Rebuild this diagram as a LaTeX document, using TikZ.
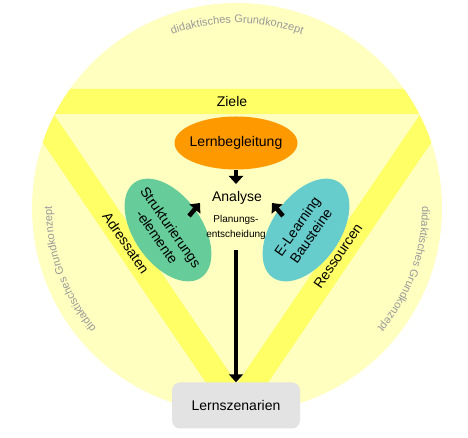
\documentclass[tikz,border=0pt]{standalone}
\usepackage{fontspec}
\setmainfont{Liberation Sans}
\usetikzlibrary{shapes.geometric, arrows.meta, decorations.text}

\definecolor{hellgelb}{RGB}{255,255,192}
\definecolor{bandgelb}{RGB}{255,255,102}
\definecolor{orange1}{RGB}{255,153,0}
\definecolor{gruen1}{RGB}{102,204,153}
\definecolor{tuerkis1}{RGB}{102,204,204}
\definecolor{grau1}{RGB}{227,227,227}
\definecolor{textgrau}{RGB}{153,153,153}

\tikzset{
  pfeil/.style={line width=4.5pt, -{Triangle[width=14pt,length=8pt]}},
  band/.style={line width=25pt, draw=bandgelb, line join=miter},
  blob/.style={ellipse, inner sep=0pt},
  bogentext/.style={decorate, decoration={text along path, text align=center,
      text color=textgrau, text={|\fontsize{11}{13}\selectfont|didaktisches Grundkonzept}}}
}

\begin{document}
\begin{tikzpicture}[x=1pt, y=1pt, every node/.style={font=\fontsize{14}{16.8}\selectfont}]
    \useasboundingbox (0,0) rectangle (468,438);

    % Grundkreis mit Dreieck
    \fill[hellgelb] (237,230) circle (205);
    \begin{scope}
        \clip (237,230) circle (205);
        \draw[band] (30,336.5) -- (444,336.5) -- (237,32) -- cycle;
    \end{scope}
    \path[bogentext] (237,230) ++(120:185) arc[start angle=120, end angle=60, radius=185];
    \path[bogentext] (237,230) ++(230:185) arc[start angle=230, end angle=170, radius=185];
    \path[bogentext] (237,230) ++(10:185) arc[start angle=10, end angle=-50, radius=185];

    \node (ziele) at (232,336) {Ziele};
    \node[rotate=-55.8] (adr) at (126,195) {Adressaten};
    \node[rotate=55.8] (res) at (338,182) {Ressourcen};

    \node[blob, fill=orange1, minimum width=123, minimum height=53] (lern) at (236,295) {};
    \node at (lern) {Lernbegleitung};
    \node[blob, fill=gruen1, rotate=-55, minimum width=116, minimum height=68] (struk) at (168,208) {};
    \node[rotate=-55, align=center] at (164,206) {Strukturierungs\\-elemente};
    \node[blob, fill=tuerkis1, rotate=55, minimum width=116, minimum height=68] (elearn) at (306,208) {};
    \node[rotate=55, align=center] at (304,207) {E-Learning\\Bausteine};

    \node (analyse) at (237,240) {Analyse};
    \node[font=\fontsize{10}{15}\selectfont, align=center] (plan) at (236,210.5) {Planungs-\\entscheidung};
    \node[rounded corners=8, fill=grau1, minimum width=128, minimum height=46] (szen) at (236,32.5) {Lernszenarien};

    \coordinate (oben) at (236,254);
    \coordinate (sl) at (189,222);
    \coordinate (al) at (200,235);
    \coordinate (sr) at (283,222);
    \coordinate (ar) at (272,235);
    \draw[pfeil] (lern.south) -- (oben);
    \draw[pfeil] (sl) -- (al);
    \draw[pfeil] (sr) -- (ar);
    \draw[pfeil, shorten <=7pt] (plan.south) -- (szen.north);
\end{tikzpicture}
\end{document}
